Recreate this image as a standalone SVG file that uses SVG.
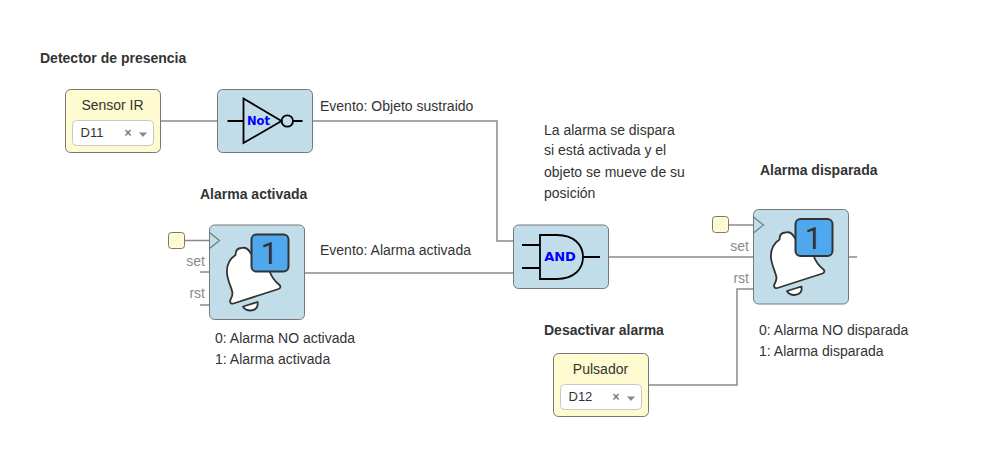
<svg xmlns="http://www.w3.org/2000/svg" width="981" height="471" viewBox="0 0 981 471">
<style>
text{font-family:"Liberation Sans",Arial,sans-serif;font-size:14px;fill:#333}
.b{font-weight:bold}
.c{text-anchor:middle}
.g{fill:#8a8a8a}
.wire{fill:none;stroke:#8a8a8a;stroke-width:1.5}
.y{fill:#fdfbcf;stroke:#777;stroke-width:1}
.k{fill:#c0dde9;stroke:#777;stroke-width:1}
.sel{fill:#fff;stroke:#c8c8c8;stroke-width:1}
.sym{fill:none;stroke:#000;stroke-width:1.8}
.lbl{font-family:"DejaVu Sans",sans-serif;font-weight:bold;fill:#00f}
.bell{fill:#fff;stroke:#333;stroke-width:1.8;stroke-linejoin:round}
.num{fill:#4fa8ee;stroke:#333;stroke-width:2}
.one{font-family:Roboto,sans-serif;font-size:31px;fill:#333;text-anchor:middle}
</style>
<defs>
<g id="alarm">
<rect class="k" x="0" y="0" width="95" height="94.500" rx="5"/>
<path d="M0 7.500L10 15.500L0 23.500" fill="none" stroke="#777" stroke-width="1.200"/>
<path class="bell" d="M41 28C39 24 36 22 32 23C28 23 26 26 26 30C20 34 17 40 17.500 48C18 56 22 62 23 68C23 72 21 74 20.500 76C20.500 78 22 79 24 78.500L69 64C71 63 71.500 61.500 70 60C65 56 62 52 60 46L41 28Z"/>
<path class="bell" d="M33.500 81.500L48 77C49 82 46 85.500 41 85.500C37 85.500 35 84.500 33.500 81.500Z" stroke-width="1.300"/>
<rect class="num" x="42" y="9.500" width="37" height="37" rx="5"/>
<text x="60" y="39" class="one">1</text>
</g>
</defs>

<g id="connectors">
<path class="wire" d="M160.500 121H217.500"/>
<path class="wire" d="M312.500 121H497V241H513.500"/>
<path class="wire" d="M304.500 273H513.500"/>
<path class="wire" d="M185 240.500H209.500"/>
<path class="wire" d="M200 272H209.500"/>
<path class="wire" d="M200 305H209.500"/>
<path class="wire" d="M608.500 257H753.500"/>
<path class="wire" d="M848.500 257H857"/>
<path class="wire" d="M729 225H753.500"/>
<path class="wire" d="M648.500 385H737V289H753.500"/>
</g>

<g id="sensor-ir">
<rect class="y" x="65.500" y="89.500" width="95" height="63" rx="5"/>
<text x="112.500" y="110" class="c">Sensor IR</text>
<rect class="sel" x="72.500" y="120.500" width="81" height="25" rx="4"/>
<text x="80.500" y="137" style="font-size:13px">D11</text>
<text x="124.500" y="137" style="font-size:12px;fill:#777;font-weight:bold">×</text>
<path d="M139 132.500h8l-4 4.500z" fill="#888"/>
</g>

<g id="not-gate">
<rect class="k" x="217.500" y="89.500" width="95" height="63" rx="5"/>
<path class="sym" d="M243.500 98.500V143L281.500 121ZM227.500 121H243.500M293 121H302.500"/>
<circle class="sym" cx="287.300" cy="121" r="5.700"/>
<text x="247" y="125" class="lbl" style="font-size:11.500px">Not</text>
</g>

<g id="alarm-activada">
<rect class="y" x="168.500" y="232.500" width="16" height="16" rx="3"/>
<text x="205" y="266" class="g" text-anchor="end">set</text>
<text x="205" y="298" class="g" text-anchor="end">rst</text>
<use href="#alarm" x="209.500" y="225"/>
</g>

<g id="and-gate">
<rect class="k" x="513.500" y="225" width="95" height="63.500" rx="5"/>
<path class="sym" d="M540 235H557C574 235 583 245 583 257C583 269 574 279 557 279H540ZM522 245H540M522 268H540M583 257H600"/>
<text x="560" y="261" class="c lbl" style="font-size:13px">AND</text>
</g>

<g id="alarma-disparada">
<rect class="y" x="712.500" y="216.500" width="16" height="16" rx="3"/>
<text x="749" y="251" class="g" text-anchor="end">set</text>
<text x="749" y="283" class="g" text-anchor="end">rst</text>
<use href="#alarm" x="753.500" y="209.500"/>
</g>

<g id="pulsador">
<rect class="y" x="553.500" y="353.500" width="95" height="63" rx="5"/>
<text x="600.500" y="374" class="c">Pulsador</text>
<rect class="sel" x="560.500" y="384.500" width="81" height="25" rx="4"/>
<text x="568.500" y="401" style="font-size:13px">D12</text>
<text x="612.500" y="401" style="font-size:12px;fill:#777;font-weight:bold">×</text>
<path d="M627 396.500h8l-4 4.500z" fill="#888"/>
</g>

<g id="labels">
<text x="40" y="63" class="b">Detector de presencia</text>
<text x="320" y="111">Evento: Objeto sustraido</text>
<text x="200" y="199" class="b">Alarma activada</text>
<text x="320" y="255">Evento: Alarma activada</text>
<text x="544" y="135">La alarma se dispara</text>
<text x="544" y="155">si está activada y el</text>
<text x="544" y="177">objeto se mueve de su</text>
<text x="544" y="198">posición</text>
<text x="760" y="175" class="b">Alarma disparada</text>
<text x="215" y="343">0: Alarma NO activada</text>
<text x="215" y="364">1: Alarma activada</text>
<text x="544" y="335" class="b">Desactivar alarma</text>
<text x="759" y="335">0: Alarma NO disparada</text>
<text x="759" y="356">1: Alarma disparada</text>
</g>
</svg>
